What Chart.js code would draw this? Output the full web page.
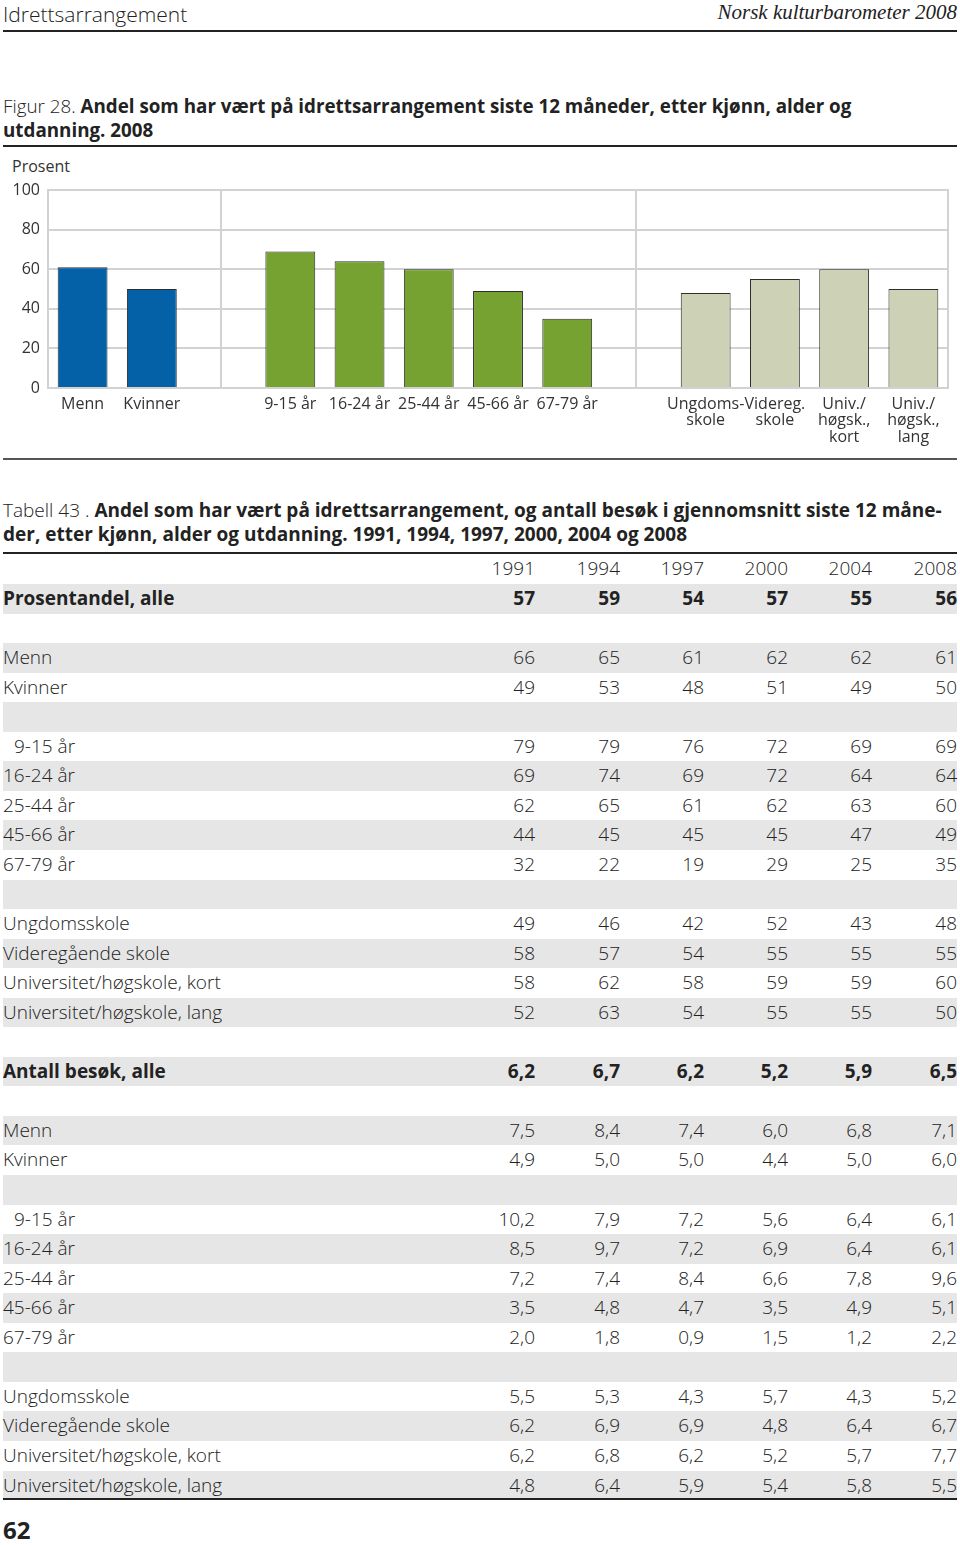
<!DOCTYPE html>
<html lang="no">
<head>
<meta charset="UTF-8">
<title>Idrettsarrangement</title>
<script src="https://cdn.jsdelivr.net/npm/chart.js"></script>
<style>
  body { margin: 0; background: #fff; font-family: 'Open Sans', 'Noto Sans', sans-serif; color: #222; }
  #page { position: relative; width: 960px; height: 1545px; overflow: hidden; }
  .abs { position: absolute; white-space: nowrap; }
  .rule { position: absolute; left: 3px; width: 954px; background: #222; }
  .light { font-weight: 300; }
  .bold { font-weight: 700; }
  .cell { position: absolute; white-space: nowrap; font-size: 19px; line-height: 29px; font-weight: 300; }
</style>
</head>
<body>
<div id="page">
  <div class="abs light" style="left:3px; top:0px; font-size:21px;">Idrettsarrangement</div>
  <div class="abs" style="right:3px; top:0px; font-size:21px; font-family:'Liberation Serif', serif; font-style:italic;">Norsk kulturbarometer 2008</div>
  <div class="rule" style="top:30px; height:2px;"></div>

  <div class="abs" style="left:3px; top:94px; font-size:18.8px; line-height:24px;">
    <span class="light">Figur 28. </span><span class="bold">Andel som har vært på idrettsarrangement siste 12 måneder, etter kjønn, alder og<br>utdanning. 2008</span>
  </div>
  <div class="rule" style="top:145px; height:2px;"></div>

  <div class="abs" style="left:12px; top:155px; font-size:16px; color:#333;">Prosent</div>
  <canvas id="chart" width="960" height="300" style="position:absolute; left:0; top:150px;"></canvas>
  <div class="rule" style="top:458px; height:2px; background:#555;"></div>

  <div class="abs" style="left:3px; top:498px; font-size:19px; line-height:24px;">
    <span class="light">Tabell 43 . </span><span class="bold">Andel som har vært på idrettsarrangement, og antall besøk i gjennomsnitt siste 12 måne-<br>der, etter kjønn, alder og utdanning. 1991, 1994, 1997, 2000, 2004 og 2008</span>
  </div>
  <div class="rule" style="top:552px; height:2px;"></div>
  <div id="table"></div>
  <div class="rule" style="top:1498px; height:2px;"></div>

  <div class="abs bold" style="left:3px; top:1517px; font-size:24px; line-height:25px;">62</div>
</div>

<script>
// ---- figure data (2008) ----
const genderLabels = ['Menn', 'Kvinner'];
const genderValues = [61, 50];
const ageLabels = ['9-15 år', '16-24 år', '25-44 år', '45-66 år', '67-79 år'];
const ageValues = [69, 64, 60, 49, 35];
const eduLabels = [['Ungdoms-', 'skole'], ['Videreg.', 'skole'], ['Univ./', 'høgsk.,', 'kort'], ['Univ./', 'høgsk.,', 'lang']];
const eduValues = [48, 55, 60, 50];
const yTicks = [0, 20, 40, 60, 80, 100];

// ---- table data ----
const years = [1991, 1994, 1997, 2000, 2004, 2008];
const groupNames = ['Menn', 'Kvinner', null, '9-15 år', '16-24 år', '25-44 år', '45-66 år', '67-79 år', null,
  'Ungdomsskole', 'Videregående skole', 'Universitet/høgskole, kort', 'Universitet/høgskole, lang'];
const shareAll = [57, 59, 54, 57, 55, 56];
const shareByGroup = [
  [66, 65, 61, 62, 62, 61], [49, 53, 48, 51, 49, 50], null,
  [79, 79, 76, 72, 69, 69], [69, 74, 69, 72, 64, 64], [62, 65, 61, 62, 63, 60],
  [44, 45, 45, 45, 47, 49], [32, 22, 19, 29, 25, 35], null,
  [49, 46, 42, 52, 43, 48], [58, 57, 54, 55, 55, 55], [58, 62, 58, 59, 59, 60], [52, 63, 54, 55, 55, 50]
];
const visitsAll = [6.2, 6.7, 6.2, 5.2, 5.9, 6.5];
const visitsByGroup = [
  [7.5, 8.4, 7.4, 6.0, 6.8, 7.1], [4.9, 5.0, 5.0, 4.4, 5.0, 6.0], null,
  [10.2, 7.9, 7.2, 5.6, 6.4, 6.1], [8.5, 9.7, 7.2, 6.9, 6.4, 6.1], [7.2, 7.4, 8.4, 6.6, 7.8, 9.6],
  [3.5, 4.8, 4.7, 3.5, 4.9, 5.1], [2.0, 1.8, 0.9, 1.5, 1.2, 2.2], null,
  [5.5, 5.3, 4.3, 5.7, 4.3, 5.2], [6.2, 6.9, 6.9, 4.8, 6.4, 6.7], [6.2, 6.8, 6.2, 5.2, 5.7, 7.7], [4.8, 6.4, 5.9, 5.4, 5.8, 5.5]
];

// ---- chart ----
const blue = '#0461a8', green = '#76a232', khaki = '#cdd1b5', gridGray = '#d2d2d2';
const labels = [...genderLabels, '', ...ageLabels, '', ...eduLabels];
const values = [...genderValues, null, ...ageValues, null, ...eduValues];
const colors = [...genderValues.map(() => blue), null, ...ageValues.map(() => green), null, ...eduValues.map(() => khaki)];
const spacerIdx = [genderLabels.length, genderLabels.length + 1 + ageLabels.length];

// right edge of the plot frame
const framePlugin = {
  id: 'frame',
  beforeDatasetsDraw(chart) {
    const { ctx, chartArea } = chart;
    ctx.save();
    ctx.strokeStyle = gridGray;
    ctx.lineWidth = 2;
    ctx.beginPath();
    ctx.moveTo(chartArea.right, chartArea.top - 1);
    ctx.lineTo(chartArea.right, chartArea.bottom);
    ctx.stroke();
    ctx.restore();
  }
};

new Chart(document.getElementById('chart'), {
  type: 'bar',
  data: {
    labels: labels,
    datasets: [{
      data: values,
      backgroundColor: colors,
      borderColor: '#2e2e2e',
      borderWidth: 1,
      barPercentage: 0.72,
      categoryPercentage: 1
    }]
  },
  options: {
    responsive: false,
    animation: false,
    devicePixelRatio: 1,
    layout: { padding: { top: 40, right: 12, left: 0, bottom: 0 } },
    plugins: { legend: { display: false }, tooltip: { enabled: false } },
    scales: {
      x: {
        afterFit(scale) { scale.height = 62; },
        grid: {
          offset: false,
          drawTicks: false,
          lineWidth: 2,
          color: c => spacerIdx.includes(c.index) ? gridGray : 'rgba(0,0,0,0)'
        },
        border: { color: gridGray, width: 2 },
        ticks: {
          autoSkip: false, maxRotation: 0, padding: 8,
          color: '#333',
          font: { family: "'Open Sans', 'Noto Sans', sans-serif", size: 16, lineHeight: 1.03 }
        }
      },
      y: {
        min: 0, max: 100,
        afterFit(scale) { scale.width = 48; },
        afterBuildTicks(scale) { scale.ticks = yTicks.map(v => ({ value: v })); },
        grid: { color: gridGray, lineWidth: 2, drawTicks: false },
        border: { color: gridGray, width: 2 },
        ticks: {
          padding: 8, color: '#333',
          font: { family: "'Open Sans', 'Noto Sans', sans-serif", size: 16 }
        }
      }
    }
  },
  plugins: [framePlugin]
});

// ---- table ----
const colRight = [535, 620, 704, 788, 872, 957];
const rowTop0 = 584, rowH = 29.55;
const fmtShare = v => String(v);
const fmtVisit = v => v.toFixed(1).replace('.', ',');

const rows = [];
rows.push({ label: 'Prosentandel, alle', vals: shareAll.map(fmtShare), bold: true });
rows.push({ label: '', vals: null });
groupNames.forEach((g, i) => rows.push({ label: g || '', vals: shareByGroup[i] ? shareByGroup[i].map(fmtShare) : null }));
rows.push({ label: '', vals: null });
rows.push({ label: 'Antall besøk, alle', vals: visitsAll.map(fmtVisit), bold: true });
rows.push({ label: '', vals: null });
groupNames.forEach((g, i) => rows.push({ label: g || '', vals: visitsByGroup[i] ? visitsByGroup[i].map(fmtVisit) : null }));

const table = document.getElementById('table');
function cell(text, left, right, top, bold) {
  const d = document.createElement('div');
  d.className = 'cell';
  d.textContent = text;
  d.style.top = top + 'px';
  if (left != null) d.style.left = left + 'px';
  if (right != null) d.style.right = (960 - right) + 'px';
  if (bold) d.style.fontWeight = '700';
  table.appendChild(d);
}
// header row
years.forEach((y, j) => cell(String(y), null, colRight[j], 554, false));

rows.forEach((r, i) => {
  const top = rowTop0 + i * rowH;
  if (i % 2 === 0) {
    const band = document.createElement('div');
    band.style.cssText = `position:absolute;left:3px;width:954px;top:${top}px;height:${rowH}px;background:#e6e6e6;`;
    table.appendChild(band);
  }
  const indent = r.label === '9-15 år' ? 14 : 3;
  cell(r.label, indent, null, top, r.bold);
  if (r.vals) r.vals.forEach((v, j) => cell(v, null, colRight[j], top, r.bold));
});
</script>
</body>
</html>
